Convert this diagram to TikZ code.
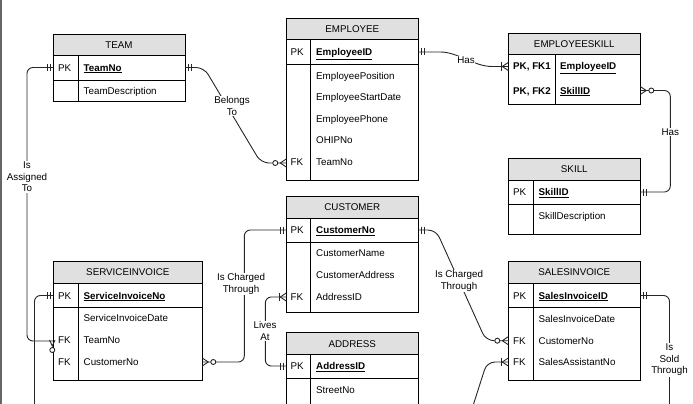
\documentclass[tikz,border=0pt]{standalone}
\usepackage{fontspec}
\setmainfont{Liberation Sans}
\usetikzlibrary{calc}
\definecolor{hdr}{RGB}{224,224,224}
\def\pkey#1{\underline{\textbf{#1}}}
\def\onebar(#1)(#2){\draw[con] ($(#1)+(#2*3,-3.5)$) -- ++(0,7); \draw[con] ($(#1)+(#2*6,-3.5)$) -- ++(0,7);}
\def\crowfoot(#1)(#2){\draw[con] ($(#1)+(0,-4)$) -- ($(#1)+(#2*6,0)$) -- ($(#1)+(0,4)$);}
\def\zeromany(#1)(#2){\crowfoot(#1)(#2) \draw[con, fill=white] ($(#1)+(#2*11,0)$) circle (2.5pt);}
\def\onemany(#1)(#2){\crowfoot(#1)(#2) \draw[con] ($(#1)+(#2*7,-4)$) -- ++(0,8);}

\begin{document}
\begin{tikzpicture}[x=1pt, y=-1pt, font=\fontsize{9.8}{11.5}\selectfont,
	con/.style={line width=0.9pt, black!85},
	box/.style={line width=1pt},
	hd/.style={line width=1pt, fill=hdr},
	ttl/.style={anchor=base, inner sep=0pt, yshift=-3.5pt},
	key/.style={anchor=base west, inner sep=0pt, yshift=-3.5pt},
	lbl/.style={fill=white, align=center, inner sep=1pt}]
		%%%%% START %%%%%
		\clip (0, 0) rectangle (693, 404);
		\draw[black!60, line width=1.5pt] (1, 0) -- (1, 404);
		
		%% TEAM
		\draw[hd] (53, 34.3) rectangle (185, 55.3);
		\draw[box] (53, 55.3) rectangle (185, 101);
		\draw[box] (53, 80.3) -- (185, 80.3);
		\draw[box] (78.7, 55.3) -- (78.7, 101);
		\node[ttl] (team) at (119, 44.8) {TEAM};
		\node[key] (team-k1) at (58, 67.5) {PK};
		\node[key] (team-a1) at (83.5, 67.5) {\pkey{TeamNo}};
		\node[key] (team-a2) at (83.5, 90.5) {TeamDescription};
		\coordinate (team-pk-l) at (53, 67.5);
		\coordinate (team-pk-r) at (185, 67.5);
		
		%% EMPLOYEE
		\draw[hd] (286.3, 18.3) rectangle (418.3, 39.3);
		\draw[box] (286.3, 39.3) rectangle (418.3, 180);
		\draw[box] (286.3, 64.3) -- (418.3, 64.3);
		\draw[box] (310.7, 39.3) -- (310.7, 180);
		\node[ttl] (employee) at (352.3, 28.8) {EMPLOYEE};
		\node[key] (emp-k1) at (290.5, 52) {PK};
		\node[key] (emp-a1) at (316, 52) {\pkey{EmployeeID}};
		\node[key] (emp-a2) at (316, 75.7) {EmployeePosition};
		\node[key] (emp-a3) at (316, 97) {EmployeeStartDate};
		\node[key] (emp-a4) at (316, 118.5) {EmployeePhone};
		\node[key] (emp-a5) at (316, 140) {OHIPNo};
		\node[key] (emp-k2) at (290.5, 161.5) {FK};
		\node[key] (emp-a6) at (316, 161.5) {TeamNo};
		\coordinate (emp-pk-r) at (418.3, 52);
		\coordinate (emp-fk-l) at (286.3, 163);
		
		%% EMPLOYEESKILL
		\draw[hd] (508.3, 33.3) rectangle (640.3, 54.3);
		\draw[box] (508.3, 54.3) rectangle (640.3, 104.3);
		\draw[box] (555.3, 54.3) -- (555.3, 104.3);
		\node[ttl] (empskill) at (574.3, 43.8) {EMPLOYEESKILL};
		\node[key] (es-k1) at (513, 66.5) {\textbf{PK, FK1}};
		\node[key] (es-a1) at (560, 66.5) {\pkey{EmployeeID}};
		\node[key] (es-k2) at (513, 90.5) {\textbf{PK, FK2}};
		\node[key] (es-a2) at (560, 90.5) {\pkey{SkillID}};
		\coordinate (es-fk1-l) at (508.3, 66.5);
		\coordinate (es-fk2-r) at (640.3, 90.5);
		
		%% SKILL
		\draw[hd] (508.3, 158.3) rectangle (640.3, 180);
		\draw[box] (508.3, 180) rectangle (640.3, 234);
		\draw[box] (508.3, 204.3) -- (640.3, 204.3);
		\draw[box] (533.3, 180) -- (533.3, 234);
		\node[ttl] (skill) at (574.3, 169.2) {SKILL};
		\node[key] (skill-k1) at (513, 192) {PK};
		\node[key] (skill-a1) at (538.5, 192) {\pkey{SkillID}};
		\node[key] (skill-a2) at (538.5, 215.7) {SkillDescription};
		\coordinate (skill-pk-r) at (640.3, 192);
		
		%% CUSTOMER
		\draw[hd] (286.3, 196) rectangle (418.3, 218);
		\draw[box] (286.3, 218) rectangle (418.3, 312.3);
		\draw[box] (286.3, 242.3) -- (418.3, 242.3);
		\draw[box] (310.7, 218) -- (310.7, 312.3);
		\node[ttl] (customer) at (352.3, 207) {CUSTOMER};
		\node[key] (cust-k1) at (290.5, 230) {PK};
		\node[key] (cust-a1) at (316, 230) {\pkey{CustomerNo}};
		\node[key] (cust-a2) at (316, 253.3) {CustomerName};
		\node[key] (cust-a3) at (316, 275) {CustomerAddress};
		\node[key] (cust-k2) at (290.5, 296.8) {FK};
		\node[key] (cust-a4) at (316, 296.8) {AddressID};
		\coordinate (cust-pk-l) at (286.3, 230);
		\coordinate (cust-pk-r) at (418.3, 230);
		\coordinate (cust-fk-l) at (286.3, 297);
		
		%% ADDRESS
		\draw[hd] (286.3, 332.7) rectangle (418.3, 354.3);
		\draw[box] (286.3, 354.3) rectangle (418.3, 420);
		\draw[box] (286.3, 378.3) -- (418.3, 378.3);
		\draw[box] (310.7, 354.3) -- (310.7, 420);
		\node[ttl] (address) at (352.3, 343.5) {ADDRESS};
		\node[key] (addr-k1) at (290.5, 366) {PK};
		\node[key] (addr-a1) at (316, 366) {\pkey{AddressID}};
		\node[key] (addr-a2) at (316, 390) {StreetNo};
		\coordinate (addr-pk-l) at (286.3, 366);
		
		%% SALESINVOICE
		\draw[hd] (508.3, 261) rectangle (640.3, 283.3);
		\draw[box] (508.3, 283.3) rectangle (640.3, 380.7);
		\draw[box] (508.3, 307.7) -- (640.3, 307.7);
		\draw[box] (533.3, 283.3) -- (533.3, 380.7);
		\node[ttl] (sales) at (574.3, 272) {SALESINVOICE};
		\node[key] (sales-k1) at (513, 295.5) {PK};
		\node[key] (sales-a1) at (538.5, 295.5) {\pkey{SalesInvoiceID}};
		\node[key] (sales-a2) at (538.5, 318.7) {SalesInvoiceDate};
		\node[key] (sales-k2) at (513, 340.7) {FK};
		\node[key] (sales-a3) at (538.5, 340.7) {CustomerNo};
		\node[key] (sales-k3) at (513, 362) {FK};
		\node[key] (sales-a4) at (538.5, 362) {SalesAssistantNo};
		\coordinate (sales-pk-r) at (640.3, 295.5);
		\coordinate (sales-cust-l) at (508.3, 340.7);
		\coordinate (sales-asst-l) at (508.3, 362);
		
		%% SERVICEINVOICE
		\draw[hd] (53.3, 261) rectangle (202.3, 283.3);
		\draw[box] (53.3, 283.3) rectangle (202.3, 380.7);
		\draw[box] (53.3, 307.7) -- (202.3, 307.7);
		\draw[box] (78.7, 283.3) -- (78.7, 380.7);
		\node[ttl] (service) at (127.8, 272) {SERVICEINVOICE};
		\node[key] (svc-k1) at (58, 295.5) {PK};
		\node[key] (svc-a1) at (83.5, 295.5) {\pkey{ServiceInvoiceNo}};
		\node[key] (svc-a2) at (83.5, 318.3) {ServiceInvoiceDate};
		\node[key] (svc-k2) at (58, 340.3) {FK};
		\node[key] (svc-a3) at (83.5, 340.3) {TeamNo};
		\node[key] (svc-k3) at (58, 361.7) {FK};
		\node[key] (svc-a4) at (83.5, 361.7) {CustomerNo};
		\coordinate (svc-pk-l) at (53.3, 295.5);
		\coordinate (svc-team-l) at (53.3, 341);
		\coordinate (svc-cust-r) at (202.3, 362);
		
		%% free ends below the page
		\coordinate (svc-out) at (34.5, 412);
		\coordinate (asst-out) at (471, 412);
		\coordinate (sales-out) at (669.5, 412);
		
		%% relationships
		\draw[con, rounded corners=8pt] (team-pk-r) -- (204, 67.5) -- (261, 163) -- (emp-fk-l);
		\node[lbl] (lbl-belongs) at (232, 106) {Belongs\\To};
		
		\draw[con, rounded corners=6pt] (team-pk-l) -- ++(-26, 0) |- (svc-team-l);
		\node[lbl] (lbl-assigned) at (27, 177) {Is\\Assigned\\To};
		
		\draw[con] (emp-pk-r) -- ++(22, 0) .. controls (458, 52) and (474, 66.5) .. (492, 66.5) -- (es-fk1-l);
		\node[lbl, inner sep=0.5pt] (lbl-has1) at (466, 60) {Has};
		
		\draw[con, rounded corners=6pt] (es-fk2-r) -- ++(30, 0) |- (skill-pk-r);
		\node[lbl] (lbl-has2) at (670.3, 132) {Has};
		
		\draw[con, rounded corners=6pt] (cust-pk-l) -- ++(-42, 0) |- (svc-cust-r);
		\node[lbl] (lbl-charged1) at (241, 284) {Is Charged\\Through};
		
		\draw[con, rounded corners=6pt] (cust-fk-l) -- ++(-21, 0) |- (addr-pk-l);
		\node[lbl] (lbl-lives) at (265, 331) {Lives\\At};
		
		\draw[con, rounded corners=8pt] (cust-pk-r) -- (436, 230) -- (486, 340.7) -- (sales-cust-l);
		\node[lbl] (lbl-charged2) at (459, 281) {Is Charged\\Through};
		
		\draw[con, rounded corners=6pt] (sales-pk-r) -- ++(29.2, 0) -- (sales-out);
		\node[lbl] (lbl-sold) at (669.5, 360) {Is\\Sold\\Through};
		
		\draw[con, rounded corners=8pt] (sales-asst-l) -- (487, 362) -- (asst-out);
		\draw[con, rounded corners=6pt] (svc-pk-l) -- ++(-18.8, 0) -- (svc-out);
		
		%% cardinality marks
		\onebar(team-pk-r)(1)
		\onebar(team-pk-l)(-1)
		\zeromany(emp-fk-l)(-1)
		\onebar(emp-pk-r)(1)
		\onemany(es-fk1-l)(-1)
		\zeromany(es-fk2-r)(1)
		\onebar(skill-pk-r)(1)
		\onebar(cust-pk-l)(-1)
		\onebar(cust-pk-r)(1)
		\zeromany(svc-cust-r)(1)
		\onemany(cust-fk-l)(-1)
		\onebar(addr-pk-l)(-1)
		\zeromany(sales-cust-l)(-1)
		\onemany(sales-asst-l)(-1)
		\onebar(sales-pk-r)(1)
		\onebar(svc-pk-l)(-1)
		\draw[con] (49.5, 340) -- (52.3, 346) -- (55, 340);
		\draw[con, fill=white] (52.3, 350) circle (2.5pt);
		
		%%%%% END %%%%%
	\end{tikzpicture}
\end{document}
